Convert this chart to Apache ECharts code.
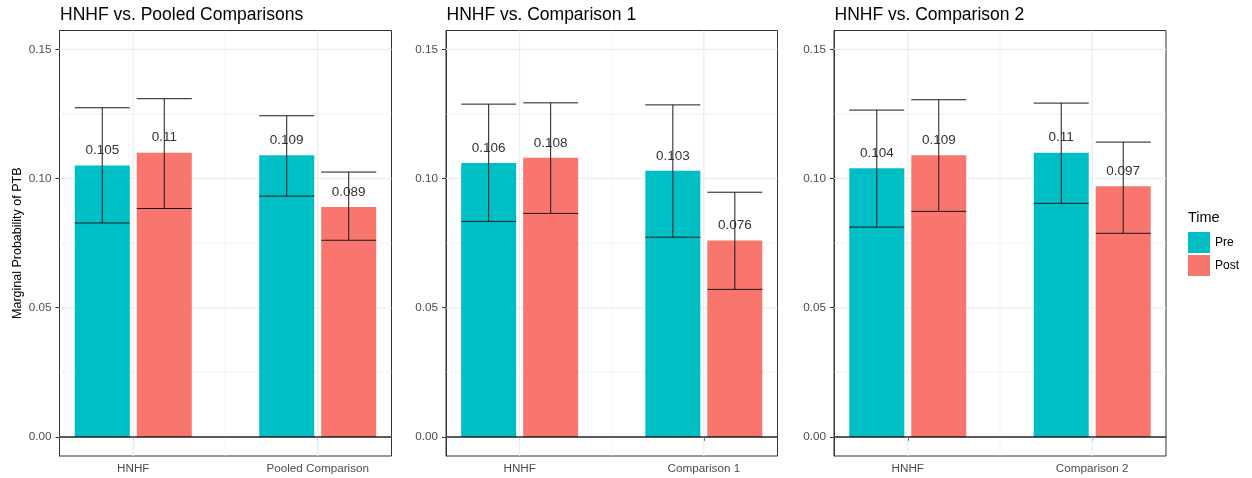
<!DOCTYPE html>
<html>
<head>
<meta charset="utf-8">
<script src="https://cdn.jsdelivr.net/npm/echarts@6/dist/echarts.min.js"></script>
<style>
  html, body { margin: 0; padding: 0; background: #fff; }
  #chart { width: 1252px; height: 478px; }
</style>
</head>
<body>
<div id="chart"></div>
<script>
// ---------------- data ----------------
const panelTitles = ["HNHF vs. Pooled Comparisons", "HNHF vs. Comparison 1", "HNHF vs. Comparison 2"];
const categories = [["HNHF", "Pooled Comparison"], ["HNHF", "Comparison 1"], ["HNHF", "Comparison 2"]];
const seriesNames = ["Pre", "Post"];
const preValues  = [[0.105, 0.109], [0.106, 0.103], [0.104, 0.110]];
const postValues = [[0.110, 0.089], [0.108, 0.076], [0.109, 0.097]];
const preLower   = [[0.0828, 0.0932], [0.0834, 0.0773], [0.0812, 0.0904]];
const preUpper   = [[0.1274, 0.1243], [0.1288, 0.1285], [0.1265, 0.1292]];
const postLower  = [[0.0884, 0.0761], [0.0865, 0.0571], [0.0873, 0.0788]];
const postUpper  = [[0.1309, 0.1025], [0.1293, 0.0947], [0.1305, 0.1141]];
const yTicks = [0, 0.05, 0.10, 0.15];
const yMinorTicks = [0.025, 0.075, 0.125];
const xTicks = [1, 2];
const xMinorTicks = [1.5];
const yAxisTitle = "Marginal Probability of PTB";
const legendTitle = "Time";

// ---------------- layout / style ----------------
const Y_MIN = -0.0074, Y_MAX = 0.1573;
const X_MIN = 0.6, X_MAX = 2.4;
const colors = ["#00BFC4", "#F8766D"];
const FONT = "'Liberation Sans', Arial, sans-serif";
const BAR_W = 55, BAR_GAP_PX = 7;
const DODGE = (BAR_W + BAR_GAP_PX) / 2;
const grids = [
  { left: 59.5, top: 30.5, width: 332, height: 425.5 },
  { left: 446, top: 30.5, width: 331.5, height: 425.5 },
  { left: 834, top: 30.5, width: 332, height: 425.5 }
];

const fmtLabel = v => String(+(+v).toFixed(3));

const option = {
  animation: false,
  backgroundColor: "#ffffff",
  textStyle: { fontFamily: FONT },
  title: [],
  grid: [],
  xAxis: [],
  yAxis: [],
  series: [],
  legend: {
    data: seriesNames,
    orient: "vertical",
    left: 1188, top: 232, padding: 0,
    itemWidth: 22, itemHeight: 21, itemGap: 2,
    icon: "rect",
    textStyle: { fontSize: 12, color: "#000", fontFamily: FONT }
  }
};

panelTitles.forEach((t, i) => {
  const g = grids[i];
  option.title.push({
    text: t, left: g.left + 0.5, top: 6, padding: 0,
    textStyle: { fontSize: 17.5, fontWeight: "normal", color: "#000", fontFamily: FONT }
  });
  option.grid.push(Object.assign({
    show: true, borderColor: "#333333", borderWidth: 1, backgroundColor: "#fff", containLabel: false
  }, g));
  option.xAxis.push({
    type: "value", gridIndex: i, min: X_MIN, max: X_MAX,
    axisLine: { show: true, lineStyle: { color: "#333333", width: 1 } },
    axisTick: { show: true, customValues: xTicks, length: 4, lineStyle: { color: "#333333" } },
    axisLabel: {
      show: true, customValues: xTicks, margin: 7, fontSize: 11.7, color: "#4D4D4D", fontFamily: FONT,
      formatter: v => categories[i][Math.round(v) - 1]
    },
    splitLine: { show: false }
  });
  option.yAxis.push({
    type: "value", gridIndex: i, min: Y_MIN, max: Y_MAX,
    name: i === 0 ? yAxisTitle : "",
    nameLocation: "middle", nameGap: 35, nameRotate: 90,
    nameTextStyle: { fontSize: 12.5, color: "#000", fontFamily: FONT },
    axisLine: { show: true, lineStyle: { color: "#333333", width: 1 } },
    axisTick: { show: true, customValues: yTicks, length: 4, lineStyle: { color: "#333333" } },
    axisLabel: {
      show: true, customValues: yTicks, margin: 8, fontSize: 11.7, color: "#4D4D4D", fontFamily: FONT,
      formatter: v => (+v).toFixed(2)
    },
    splitLine: { show: false }
  });

  // grid lines (major / minor)
  const gl = [];
  xTicks.forEach(v => gl.push([0, v, 1]));
  xMinorTicks.forEach(v => gl.push([0, v, 0]));
  yTicks.forEach(v => gl.push([1, v, 1]));
  yMinorTicks.forEach(v => gl.push([1, v, 0]));
  option.series.push({
    type: "custom", xAxisIndex: i, yAxisIndex: i, silent: true, z: 1,
    data: gl,
    renderItem: (params, api) => {
      const orient = api.value(0), v = api.value(1), major = api.value(2);
      let p1, p2;
      if (orient === 0) { p1 = api.coord([v, Y_MIN]); p2 = api.coord([v, Y_MAX]); }
      else { p1 = api.coord([X_MIN, v]); p2 = api.coord([X_MAX, v]); }
      return {
        type: "line",
        shape: { x1: p1[0], y1: p1[1], x2: p2[0], y2: p2[1] },
        style: { stroke: "#EBEBEB", lineWidth: major ? 1.1 : 0.6 }
      };
    }
  });

  // bars
  const vals = [preValues[i], postValues[i]];
  seriesNames.forEach((name, s) => {
    option.series.push({
      name: name, type: "bar", xAxisIndex: i, yAxisIndex: i, z: 2,
      barWidth: BAR_W, barGap: (BAR_GAP_PX / BAR_W * 100).toFixed(1) + "%",
      itemStyle: { color: colors[s] },
      label: {
        show: true, position: "top", distance: 8, fontSize: 13.5, color: "#333",
        fontFamily: FONT, formatter: p => fmtLabel(p.value[1])
      },
      data: vals[s].map((v, k) => [xTicks[k], v])
    });
  });

  // zero line
  option.series.push({
    type: "custom", xAxisIndex: i, yAxisIndex: i, silent: true, z: 3,
    data: [[0]],
    renderItem: (params, api) => {
      const p1 = api.coord([X_MIN, 0]), p2 = api.coord([X_MAX, 0]);
      return { type: "line", shape: { x1: p1[0], y1: p1[1], x2: p2[0], y2: p2[1] },
               style: { stroke: "#000", lineWidth: 1 } };
    }
  });

  // error bars
  const eb = [];
  xTicks.forEach((x, k) => {
    eb.push([x, preLower[i][k], preUpper[i][k], -1]);
    eb.push([x, postLower[i][k], postUpper[i][k], 1]);
  });
  option.series.push({
    type: "custom", xAxisIndex: i, yAxisIndex: i, silent: true, z: 4,
    encode: { x: 0, y: [1, 2] },
    data: eb,
    renderItem: (params, api) => {
      const x = api.value(0), lo = api.value(1), hi = api.value(2), side = api.value(3);
      const pl = api.coord([x, lo]), ph = api.coord([x, hi]);
      const cx = pl[0] + side * DODGE;
      const hw = BAR_W / 2;
      const st = { stroke: "#1a1a1a", lineWidth: 1 };
      return {
        type: "group",
        children: [
          { type: "line", shape: { x1: cx, y1: ph[1], x2: cx, y2: pl[1] }, style: st },
          { type: "line", shape: { x1: cx - hw, y1: ph[1], x2: cx + hw, y2: ph[1] }, style: st },
          { type: "line", shape: { x1: cx - hw, y1: pl[1], x2: cx + hw, y2: pl[1] }, style: st }
        ]
      };
    }
  });
});

option.title.push({
  text: legendTitle, left: 1188, top: 210, padding: 0,
  textStyle: { fontSize: 14.5, fontWeight: "normal", color: "#000", fontFamily: FONT }
});

const chart = echarts.init(document.getElementById("chart"), null, { renderer: "canvas" });
chart.setOption(option);
</script>
</body>
</html>
